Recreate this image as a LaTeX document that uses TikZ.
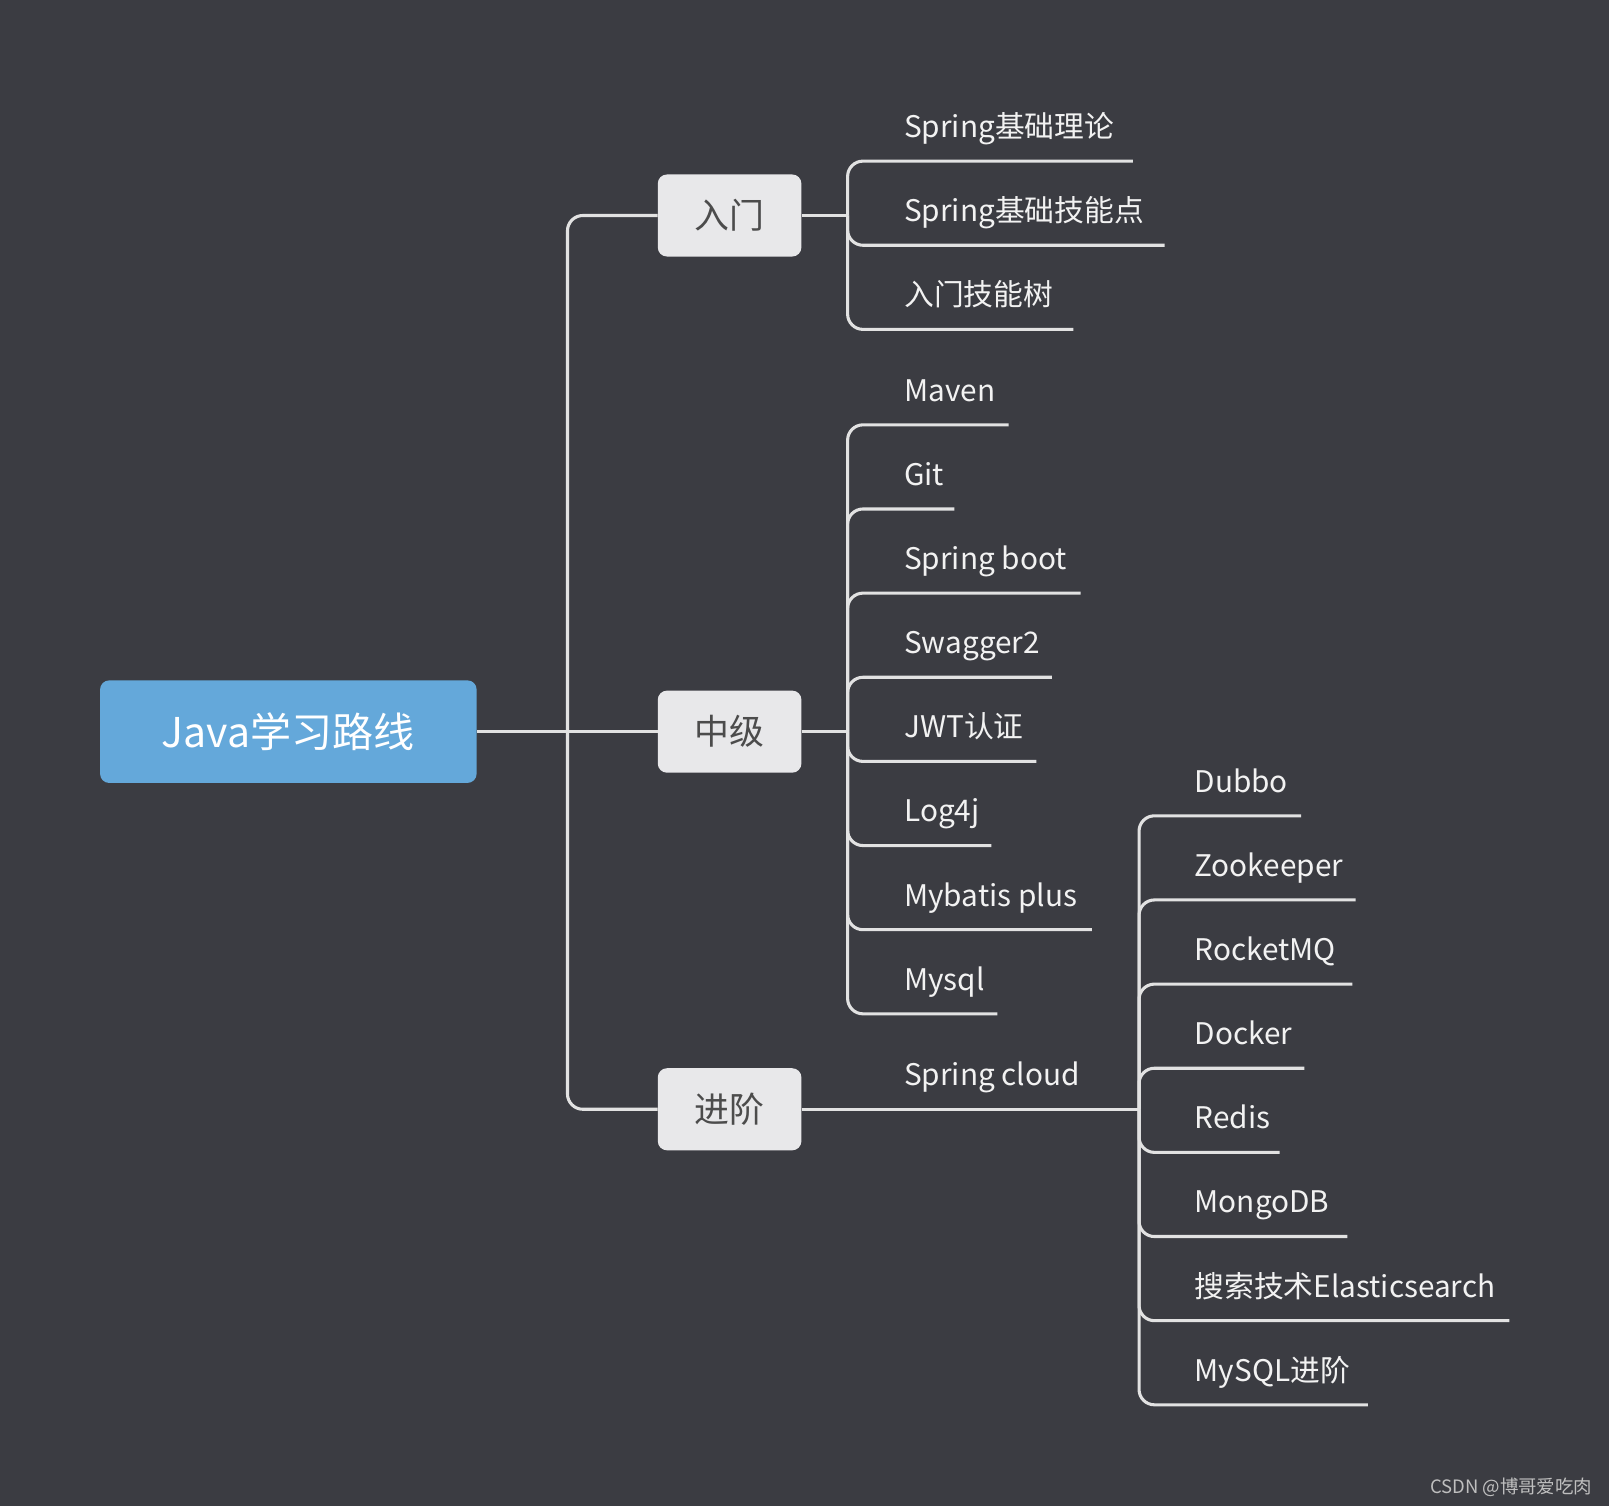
\documentclass[tikz,border=0pt]{standalone}
\usepackage{fontspec}
\setmainfont{Noto Sans CJK SC}
\definecolor{bgdark}{HTML}{3B3C42}
\definecolor{rootblue}{HTML}{64A8DA}
\definecolor{boxgray}{HTML}{E8E8EA}
\definecolor{linkgray}{HTML}{E2E2E2}
\tikzset{
  link/.style={draw=linkgray, line width=3pt, rounded corners=15pt},
  root/.style={fill=rootblue, rounded corners=9pt, minimum width=367pt,
    minimum height=100pt, text=white, font=\fontsize{40}{40}\selectfont},
  branch/.style={fill=boxgray, rounded corners=9pt, minimum width=140pt,
    minimum height=80pt, text=black!70, font=\fontsize{34}{34}\selectfont},
  leaf/.style={anchor=base west, inner sep=0pt, text=white!95!black,
    font=\fontsize{29}{29}\selectfont}
}
\begin{document}
\begin{tikzpicture}[x=1pt, y=-1pt]
  \fill[bgdark] (0,0) rectangle (1568,1468);
  \useasboundingbox (0,0) rectangle (1568,1468);

  % root and branches
  \node[root] (java) at (281,713) {Java学习路线};
  \node[branch] (intro) at (711,210) {入门};
  \node[branch] (mid) at (711,713) {中级};
  \node[branch] (adv) at (711,1081) {进阶};
  \coordinate (trunk) at (553,713);
  \draw[link] (java.east) -- (mid.west);
  \draw[link] (intro.west) -| (trunk) |- (adv.west);

  % 入门
  \coordinate (j-intro) at (826,210);
  \draw[link] (intro.east) -- (j-intro);
  \foreach \txt/\y/\e [count=\i] in {Spring基础理论/157/1104,
      Spring基础技能点/239/1135, 入门技能树/321/1046} {
    \node[leaf] (a\i) at (881,\y-23) {\txt};
    \coordinate (ae\i) at (\e,\y);
    \draw[link] (j-intro) |- (ae\i);
  }

  % 中级
  \coordinate (j-mid) at (826,713);
  \draw[link] (mid.east) -- (j-mid);
  \foreach \txt/\y/\e [count=\i] in {Maven/414/983, Git/496/930,
      Spring boot/578/1053, Swagger2/660/1025, JWT认证/742/1010,
      Log4j/824/966, Mybatis plus/906/1064, Mysql/988/972} {
    \node[leaf] (b\i) at (881,\y-23) {\txt};
    \coordinate (be\i) at (\e,\y);
    \draw[link] (j-mid) |- (be\i);
  }

  % 进阶
  \node[leaf] (cloud) at (881,1058) {Spring cloud};
  \coordinate (j-adv) at (1110,1081);
  \draw[link] (adv.east) -- (j-adv);
  \foreach \txt/\y/\e [count=\i] in {Dubbo/795/1268, Zookeeper/877/1321,
      RocketMQ/959/1318, Docker/1041/1271, Redis/1123/1247,
      MongoDB/1205/1313, 搜索技术Elasticsearch/1287/1471,
      MySQL进阶/1369/1333} {
    \node[leaf] (c\i) at (1164,\y-23) {\txt};
    \coordinate (ce\i) at (\e,\y);
    \draw[link] (j-adv) |- (ce\i);
  }

  \node[anchor=base east, inner sep=0pt, text=white!75!black,
    font=\fontsize{18}{18}\selectfont] (mark) at (1552,1455) {CSDN @博哥爱吃肉};
\end{tikzpicture}
\end{document}
